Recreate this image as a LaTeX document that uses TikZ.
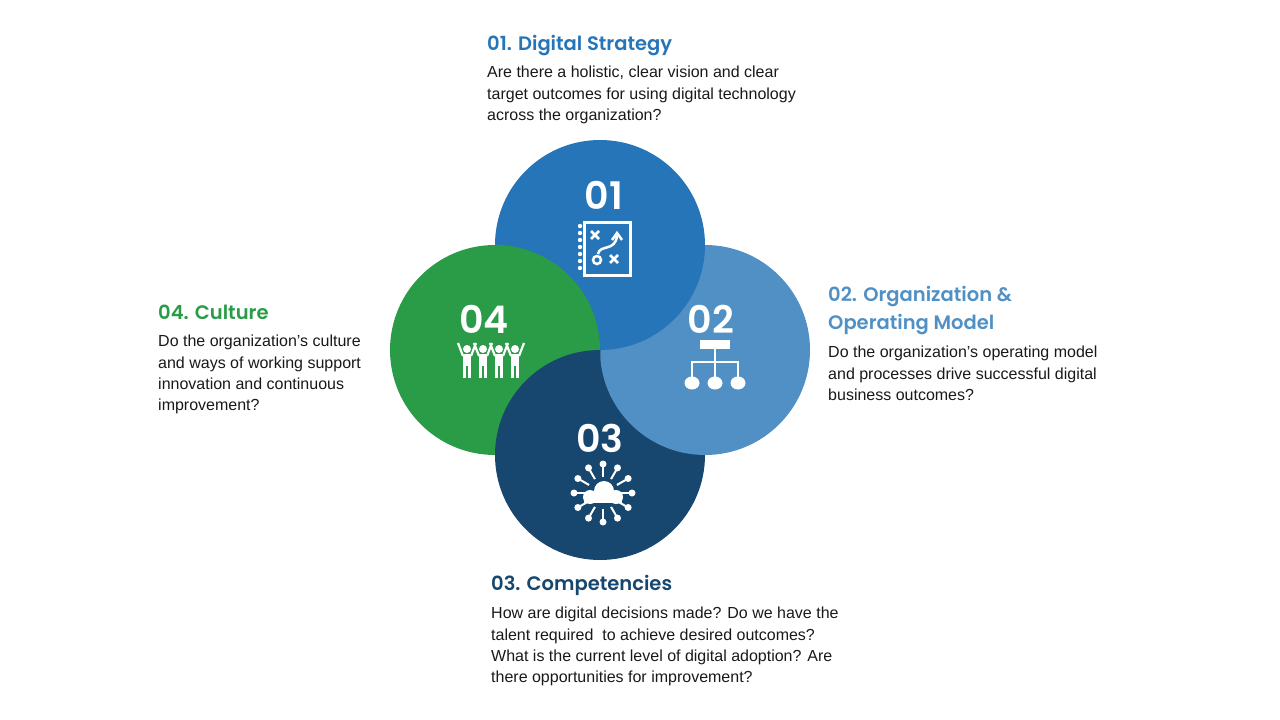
\documentclass[tikz,border=0pt]{standalone}
\usepackage{fontspec}
\setmainfont{Liberation Sans}
\newfontfamily\numfont{Poppins SemiBold}
\newfontfamily\titfont{Poppins SemiBold}
\begin{document}
\begin{tikzpicture}[x=1pt,y=-1pt,
  ttl/.style={anchor=north west,inner sep=0pt,font=\titfont\fontsize{19.5}{28}\selectfont,align=left},
  body/.style={anchor=north west,inner sep=0pt,font=\fontsize{16}{21.3}\selectfont,align=left,text=black!90},
  num/.style={text=white,font=\numfont\fontsize{38}{38}\selectfont},
  ic/.style={white,line width=3pt}]
\definecolor{cA}{HTML}{2575B8}
\definecolor{cB}{HTML}{5090C5}
\definecolor{cC}{HTML}{17466E}
\definecolor{cD}{HTML}{2A9C48}
\useasboundingbox (0,0) rectangle (1280,720);
\def\R{105}
\fill[cC] (600,455) circle (\R);
\fill[cB] (705,350) circle (\R);
\fill[cA] (600,245) circle (\R);
\fill[cD] (495,350) circle (\R);
\begin{scope}
\clip (495,350) circle (\R+0.5);
\fill[cC] (600,455) circle (\R);
\end{scope}
\node[num] (n1) at (604,195) {01};
\node[num] (n2) at (711,319) {02};
\node[num] (n3) at (600,438) {03};
\node[num] (n4) at (484,319) {04};
% icon 01
\draw[ic] (584,222) rectangle (630,275);
\foreach \y in {226,233,...,272} \fill[white] (580,\y) circle (2.2);
\draw[ic,line width=2.5pt] (591,231)--(599,239) (599,231)--(591,239);
\draw[ic,line width=2.5pt] (610,255)--(618,263) (618,255)--(610,263);
\draw[ic,line width=2.5pt] (597,260) circle (4);
\draw[ic,line width=2.5pt] (598,254) .. controls (600,244) and (615,252) .. (617,236);
\draw[ic,line width=2.5pt] (612,240)--(617,233)--(622,240);
% icon 02
\fill[white] (700,340) rectangle (730,349);
\draw[ic,line width=2.5pt] (715,349)--(715,383) (692,383)--(692,362)--(738,362)--(738,383);
\foreach \x in {692,715,738} \fill[white] (\x,383) ellipse (7.5 and 6.5);
% icon 03
\foreach \a in {0,30,60,90,120,150,180,210,240,270,300,330}{
  \draw[white,line width=2pt] (603,493) -- ++(\a:29) coordinate (e);
  \fill[white] (e) circle (3.5);}
\fill[cC] (603,493) circle (16);
\fill[white] (584,503) rectangle (622,494);
\fill[white] (590,497) circle (7) (604,491) circle (10) (616,497) circle (7);
% icon 04
\foreach \x in {467,483,499,515}{
  \fill[white] (\x,349) circle (4);
  \fill[white] (\x-4,354) rectangle (\x+4,366);
  \fill[white] (\x-4,366) rectangle (\x-1.2,378);
  \fill[white] (\x+1.2,366) rectangle (\x+4,378);
  \draw[white,line width=2.2pt] (\x-4,356)--(\x-9,343) (\x+4,356)--(\x+9,343);
}
\node[ttl,text=cA] (t1) at (487,35) {01. Digital Strategy};
\node[body] (b1) at (487,66) {Are there a holistic, clear vision and clear\\target outcomes for using digital technology\\across the organization?};
\node[ttl,text=cB] (t2) at (828,286) {02. Organization \&\\Operating Model};
\node[body] (b2) at (828,346) {Do the organization’s operating model\\and processes drive successful digital\\business outcomes?};
\node[ttl,text=cD] (t4) at (158,305) {04. Culture};
\node[body] (b4) at (158,335) {Do the organization’s culture\\and ways of working support\\innovation and continuous\\improvement?};
\node[ttl,text=cC] (t3) at (491,575) {03. Competencies};
\node[body] (b3) at (491,607) {How are digital decisions made? Do we have the\\talent required\ \ to achieve desired outcomes?\\What is the current level of digital adoption? Are\\there opportunities for improvement?};
\end{tikzpicture}
\end{document}
